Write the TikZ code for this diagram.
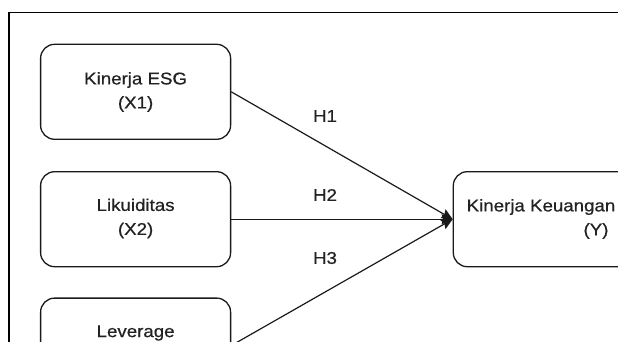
\documentclass[tikz,border=0pt]{standalone}
\usepackage{fontspec}
\setmainfont{Liberation Sans}[FakeStretch=1.1,FakeBold=0.6]
\usetikzlibrary{arrows.meta}
\definecolor{ink}{HTML}{1A1A1A}
\definecolor{txt}{HTML}{222222}
\tikzset{
  varbox/.style={draw=ink, line width=1.3pt, rounded corners=14pt, minimum width=190pt, minimum height=95pt, inner sep=0pt},
  lbl/.style={text=txt, font=\fontsize{17}{24}\selectfont, inner sep=0pt, align=center},
  link/.style={draw=ink, line width=1.2pt, -{Stealth[length=11pt,width=10pt,inset=1.5pt]}}
}
\begin{document}
\begin{tikzpicture}[x=1pt,y=-1pt]
\useasboundingbox (0,0) rectangle (618,342);
\clip (0,0) rectangle (618,342);
\fill[white] (0,0) rectangle (618,342);
% frame
\draw[black, line width=1.6pt] (8.7,360) -- (8.7,12.5) -- (640,12.5);
% boxes
\node[varbox] (x1) at (135.6,91.8) {};
\node[varbox] (x2) at (135.6,219.2) {};
\node[varbox] (x3) at (135.6,345.6) {};
\node[varbox] (y) at (548.3,219.2) {};
% texts
\node[lbl] (t1) at (135.6,92) {Kinerja ESG\\(X1)};
\node[lbl] (t2) at (135.6,218.5) {Likuiditas\\(X2)};
\node[lbl] (t3) at (135.6,333) {Leverage};
\node[lbl] (ty1) at (541,207) {Kinerja Keuangan};
\node[lbl] (ty2) at (596,231) {(Y)};
% connectors
\draw[link] (x1.east) -- (y.west);
\draw[link] (x2.east) -- (y.west);
\draw[link] (x3.east) -- (y.west);
% hypothesis labels
\node[lbl] (h1) at (325,116) {H1};
\node[lbl] (h2) at (325,195) {H2};
\node[lbl] (h3) at (325,258) {H3};
\end{tikzpicture}
\end{document}
